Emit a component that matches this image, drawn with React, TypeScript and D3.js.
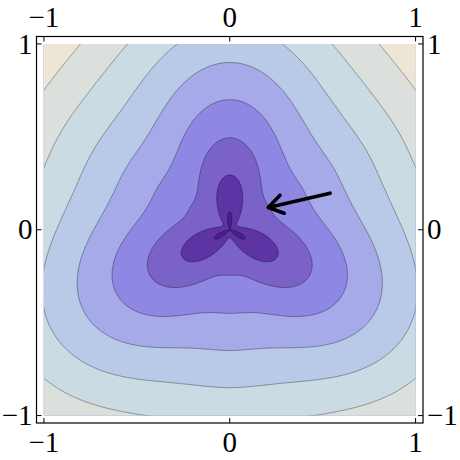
import React from "react";
import * as d3 from "d3";

// ---- data ----
const tickValues = [-1, 0, 1];
const tickLabels = ["\u22121", "0", "1"];
const contourLevels = [-0.03, 0.17, 0.37, 0.575, 0.775, 0.975, 1.175, 1.375];
const bandColors = [
  "#4a1e8f",
  "#5e33a4",
  "#7b62c9",
  "#8e88e4",
  "#a6aae9",
  "#b9c9e8",
  "#cadbe4",
  "#dce0dc",
  "#ede5d5",
];
const petalAmplitude = [0.125];
const petalSharpness = [1.6];
const arrowTail = [0.54, 0.197];
const arrowTip = [0.207, 0.12];

const W = 460;
const H = 460;
const frameL = 36.5;
const frameR = 423;
const frameT = 36.5;
const frameB = 423;

function field(x: number, y: number): number {
  const r = Math.hypot(x, y);
  const t = Math.atan2(y, x);
  const u = (1 - Math.sin(3 * t)) / 2;
  const s = 1 - 2 * Math.pow(u, petalSharpness[0]);
  return r + petalAmplitude[0] * s;
}

export default function App() {
  const xs = d3.scaleLinear().domain([-1.04, 1.04]).range([frameL, frameR]);
  const ys = d3.scaleLinear().domain([-1.04, 1.04]).range([frameB, frameT]);

  const step = 0.004;
  const gmin = -1.062;
  const n = Math.round((2 * -gmin) / step) + 1;
  const values = new Float64Array(n * n);
  for (let j = 0; j < n; j++) {
    const yv = -gmin - j * step;
    for (let i = 0; i < n; i++) {
      const xv = gmin + i * step;
      values[j * n + i] = field(xv, yv);
    }
  }
  const gen = d3.contours().size([n, n]).thresholds(contourLevels);
  const polys = gen(Array.from(values));

  const toPath = (mp: any) =>
    mp.coordinates
      .map((poly: number[][][]) =>
        poly
          .map(
            (ring) =>
              "M" +
              ring
                .map(([u, v]) => {
                  const xv = gmin + (u - 0.5) * step;
                  const yv = -gmin - (v - 0.5) * step;
                  return `${xs(xv).toFixed(2)},${ys(yv).toFixed(2)}`;
                })
                .join("L") +
              "Z"
          )
          .join("")
      )
      .join("");

  const paths = polys.map(toPath);

  const x0 = xs(-1), x1 = xs(1), y0 = ys(1), y1 = ys(-1);

  // arrow
  const tx = xs(arrowTail[0]), ty = ys(arrowTail[1]);
  const hx = xs(arrowTip[0]), hy = ys(arrowTip[1]);
  const ang = Math.atan2(ty - hy, tx - hx);
  const wl = 17;
  const wa = (33 * Math.PI) / 180;
  const w1 = [hx + wl * Math.cos(ang - wa), hy + wl * Math.sin(ang - wa)];
  const w2 = [hx + wl * Math.cos(ang + wa), hy + wl * Math.sin(ang + wa)];

  const fs = 29;
  const font = "'Liberation Serif', 'Times New Roman', serif";

  return (
    <svg width={W} height={H} style={{ position: "absolute", left: 0, top: 0 }}>
      <defs>
        <clipPath id="plotclip">
          <rect x={x0} y={y0} width={x1 - x0} height={y1 - y0} />
        </clipPath>
      </defs>
      <rect x={0} y={0} width={W} height={H} fill="#fff" />
      <g clipPath="url(#plotclip)">
        <rect x={x0} y={y0} width={x1 - x0} height={y1 - y0} fill={bandColors[0]} />
        {paths.map((d, k) => (
          <path key={"f" + k} d={d} fill={bandColors[k + 1]} fillRule="evenodd" stroke="none" />
        ))}
        {paths.map((d, k) => (
          <path key={"s" + k} d={d} fill="none" stroke="#000" strokeOpacity={0.38} strokeWidth={0.9} />
        ))}
      </g>
      <path
        d={`M${tx},${ty}L${hx},${hy}M${w1[0]},${w1[1]}L${hx},${hy}L${w2[0]},${w2[1]}`}
        fill="none"
        stroke="#000"
        strokeWidth={3.6}
        strokeLinecap="round"
        strokeLinejoin="round"
      />
      <rect x={frameL} y={frameT} width={frameR - frameL} height={frameB - frameT} fill="none" stroke="#000" strokeWidth={1.2} />
      {tickValues.map((v, k) => (
        <g key={"t" + k}>
          <line x1={xs(v)} x2={xs(v)} y1={frameT} y2={frameT + 5} stroke="#000" strokeWidth={1} />
          <line x1={xs(v)} x2={xs(v)} y1={frameB} y2={frameB - 5} stroke="#000" strokeWidth={1} />
          <line y1={ys(v)} y2={ys(v)} x1={frameL} x2={frameL + 5} stroke="#000" strokeWidth={1} />
          <line y1={ys(v)} y2={ys(v)} x1={frameR} x2={frameR - 5} stroke="#000" strokeWidth={1} />
          <text x={xs(v)} y={27} textAnchor="middle" fontFamily={font} fontSize={fs}>
            {tickLabels[k]}
          </text>
          <text x={xs(v)} y={452} textAnchor="middle" fontFamily={font} fontSize={fs}>
            {tickLabels[k]}
          </text>
          <text x={frameL - 4} y={ys(v) + fs * 0.33} textAnchor="end" fontFamily={font} fontSize={fs}>
            {tickLabels[k]}
          </text>
          <text x={frameR + 4} y={ys(v) + fs * 0.33} textAnchor="start" fontFamily={font} fontSize={fs}>
            {tickLabels[k]}
          </text>
        </g>
      ))}
    </svg>
  );
}
